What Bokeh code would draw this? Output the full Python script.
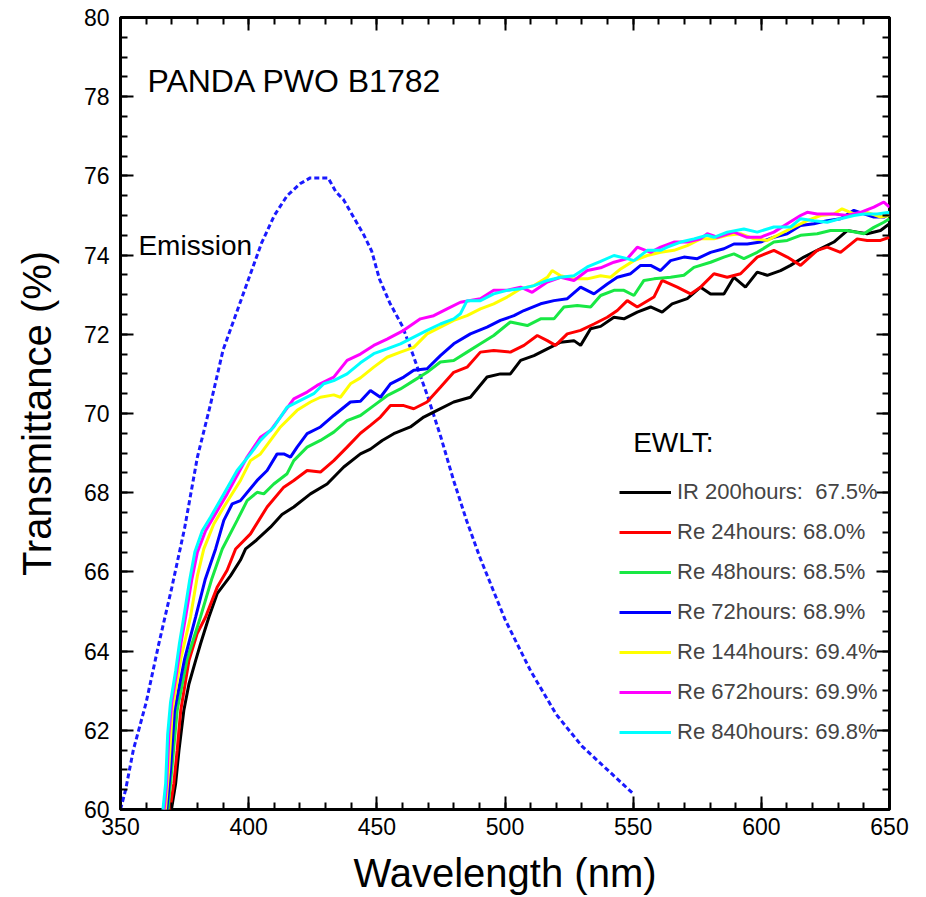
from bokeh.plotting import figure
from bokeh.models import (LinearAxis, Range1d, FixedTicker, Label, Legend, LegendItem,
                          CustomLabelingPolicy)
from bokeh.embed import file_html
from bokeh.resources import INLINE

# ---------------- data ----------------
x_major = [350, 400, 450, 500, 550, 600, 650]
x_minor = list(range(350, 651, 10))
y_major = [60, 62, 64, 66, 68, 70, 72, 74, 76, 78, 80]
y_minor = [60 + 0.5 * i for i in range(41)]

emission = [(350, 60.0), (352, 60.5), (355, 61.5), (360, 62.7), (365, 64.2), (370, 65.6),
            (375, 67.1), (380, 68.9), (385, 70.2), (390, 71.6), (395, 72.5), (400, 73.4),
            (405, 74.3), (410, 75.0), (415, 75.5), (420, 75.8), (424, 75.95), (431, 75.95),
            (434, 75.6), (437, 75.4), (441, 74.95), (445, 74.5), (448, 74.1), (451, 73.4),
            (455, 72.8), (460, 72.2), (464, 71.5), (470, 70.4), (475, 69.4), (480, 68.3),
            (485, 67.3), (490, 66.4), (495, 65.6), (500, 64.8), (510, 63.5), (520, 62.4),
            (530, 61.6), (540, 61.0), (550, 60.4)]

ir200 = [(369.8, 59.97), (371.5, 60.65), (372.8, 61.49), (374.7, 62.5), (376.7, 63.17),
         (379.3, 63.76), (381.2, 64.18), (384.5, 64.86), (387.7, 65.45), (392.9, 65.9),
         (396.8, 66.3), (398.8, 66.58), (403.0, 66.8), (408.5, 67.13), (413.0, 67.45),
         (417.6, 67.64), (424.1, 67.97), (430.6, 68.22), (437.1, 68.65), (443.6, 68.98),
         (447.5, 69.1), (452.1, 69.32), (456.6, 69.49), (463.1, 69.66), (468.3, 69.91),
         (473.5, 70.08), (480.0, 70.29), (486.5, 70.41), (493.0, 70.92), (498.2, 71.0),
         (502.1, 71.0), (506.1, 71.34), (511.3, 71.46), (516.5, 71.63), (521.7, 71.8),
         (526.9, 71.84), (529.5, 71.72), (533.4, 72.14), (537.3, 72.2), (542.5, 72.43),
         (546.4, 72.39), (551.6, 72.56), (556.8, 72.69), (561.3, 72.56), (565.2, 72.77),
         (571.1, 72.9), (576.3, 73.19), (580.2, 73.02), (585.4, 73.02), (589.3, 73.44),
         (593.8, 73.19), (598.4, 73.57), (602.3, 73.49), (607.5, 73.61), (611.4, 73.74),
         (616.6, 73.95), (621.8, 74.12), (628.3, 74.33), (633.5, 74.62), (637.4, 74.58),
         (641.3, 74.54), (646.5, 74.62), (650.0, 74.79)]

re24 = [(369.2, 59.97), (370.8, 60.65), (372.1, 61.49), (373.5, 62.5), (376.7, 63.76),
        (379.9, 64.44), (383.2, 64.86), (387.7, 65.61), (391.6, 66.04), (394.9, 66.58),
        (400.7, 66.96), (407.2, 67.64), (413.7, 68.14), (417.6, 68.31), (422.8, 68.56),
        (428.0, 68.52), (433.2, 68.81), (438.4, 69.15), (443.6, 69.5), (447.5, 69.7),
        (451.4, 69.91), (455.3, 70.2), (460.5, 70.2), (464.4, 70.12), (469.6, 70.29),
        (474.8, 70.66), (480.0, 71.04), (485.2, 71.17), (490.4, 71.55), (495.6, 71.59),
        (502.1, 71.55), (507.4, 71.72), (512.6, 71.97), (516.5, 71.84), (519.7, 71.72),
        (524.3, 72.01), (529.5, 72.1), (534.7, 72.26), (539.9, 72.43), (543.8, 72.6),
        (547.7, 72.85), (551.6, 72.69), (558.1, 72.94), (561.3, 73.36), (567.2, 73.19),
        (572.4, 73.02), (576.3, 73.19), (581.5, 73.53), (586.7, 73.44), (591.9, 73.53),
        (598.4, 73.95), (604.9, 74.12), (610.1, 73.95), (615.3, 73.74), (621.8, 74.12),
        (625.7, 74.2), (630.9, 74.07), (637.4, 74.41), (641.3, 74.37), (646.5, 74.37),
        (650.0, 74.45)]

re48 = [(368.5, 59.97), (370.0, 61.0), (372.1, 62.5), (376.0, 63.8), (381.2, 64.86),
        (385.5, 65.8), (389.7, 66.58), (395.5, 67.3), (399.4, 67.8), (403.3, 68.01),
        (405.9, 67.97), (409.8, 68.22), (415.0, 68.48), (417.6, 68.81), (422.8, 69.15),
        (428.0, 69.32), (433.2, 69.53), (438.4, 69.82), (443.6, 69.95), (448.8, 70.2),
        (454.0, 70.45), (459.2, 70.62), (464.4, 70.83), (469.6, 71.04), (474.8, 71.3),
        (480.0, 71.34), (485.2, 71.55), (490.4, 71.76), (495.6, 71.97), (502.1, 72.31),
        (508.7, 72.22), (513.9, 72.39), (519.1, 72.39), (523.0, 72.69), (528.2, 72.73),
        (533.4, 72.69), (537.3, 72.98), (542.5, 73.11), (546.4, 73.11), (550.3, 72.98),
        (554.2, 73.36), (558.1, 73.4), (564.6, 73.44), (569.8, 73.49), (573.7, 73.69),
        (580.2, 73.82), (585.4, 73.95), (589.3, 74.03), (593.2, 73.91), (598.4, 74.07),
        (604.9, 74.33), (610.1, 74.37), (615.3, 74.5), (621.8, 74.54), (627.0, 74.62),
        (633.5, 74.62), (640.0, 74.54), (643.9, 74.7), (647.8, 74.83), (650.0, 74.92)]

re72 = [(368.0, 59.97), (369.5, 61.0), (371.1, 62.5), (375.0, 63.8), (379.3, 64.86),
        (383.0, 65.8), (387.1, 66.58), (390.3, 67.3), (393.6, 67.72), (396.8, 67.8),
        (403.3, 68.31), (407.2, 68.56), (411.1, 68.98), (413.7, 68.98), (416.3, 68.9),
        (418.9, 69.15), (422.8, 69.49), (428.0, 69.66), (433.2, 69.95), (439.7, 70.29),
        (443.6, 70.31), (447.5, 70.58), (451.4, 70.41), (455.3, 70.75), (460.5, 70.92),
        (464.4, 71.09), (469.6, 71.13), (474.8, 71.46), (480.0, 71.76), (486.5, 72.01),
        (493.0, 72.18), (498.2, 72.35), (503.5, 72.47), (507.4, 72.6), (513.9, 72.77),
        (519.1, 72.85), (524.3, 72.9), (529.5, 73.19), (534.7, 73.02), (539.9, 73.27),
        (543.8, 73.44), (549.0, 73.53), (552.9, 73.74), (556.8, 73.74), (560.7, 73.61),
        (564.6, 73.86), (569.8, 73.95), (575.0, 73.91), (580.2, 74.07), (585.4, 74.16),
        (589.3, 74.28), (594.5, 74.28), (599.7, 74.33), (604.9, 74.45), (610.1, 74.54),
        (615.3, 74.75), (620.5, 74.79), (625.7, 74.87), (630.9, 74.92), (636.1, 75.13),
        (640.0, 75.04), (643.9, 74.96), (647.8, 74.96), (650.0, 75.04)]

re144 = [(367.5, 59.97), (368.8, 61.0), (370.2, 62.5), (373.5, 63.8), (377.3, 64.86),
         (380.0, 65.9), (382.5, 66.58), (386.4, 67.21), (390.3, 67.64), (396.8, 68.31),
         (400.7, 68.81), (404.6, 68.98), (408.5, 69.32), (412.4, 69.66), (418.9, 70.08),
         (424.1, 70.29), (428.0, 70.41), (433.2, 70.47), (435.8, 70.41), (439.7, 70.75),
         (443.6, 70.9), (448.8, 71.17), (454.0, 71.42), (459.2, 71.55), (464.4, 71.67),
         (469.6, 72.01), (474.8, 72.18), (480.0, 72.35), (485.2, 72.47), (490.4, 72.64),
         (495.6, 72.77), (500.8, 72.94), (506.1, 73.15), (511.3, 73.23), (516.5, 73.44),
         (518.4, 73.61), (521.7, 73.48), (526.9, 73.4), (532.1, 73.4), (537.3, 73.48),
         (541.2, 73.44), (545.1, 73.65), (550.3, 73.86), (555.5, 73.99), (560.7, 74.07),
         (565.9, 74.12), (571.1, 74.24), (576.3, 74.41), (581.5, 74.41), (586.7, 74.5),
         (591.9, 74.54), (597.1, 74.41), (602.3, 74.37), (607.5, 74.54), (612.7, 74.71),
         (617.9, 74.87), (623.1, 75.0), (628.3, 75.04), (631.5, 75.17), (636.1, 75.04),
         (641.3, 75.08), (646.5, 74.96), (650.0, 75.0)]

re672 = [(367.0, 59.97), (368.0, 60.65), (368.9, 61.9), (370.0, 62.7), (372.0, 63.5),
         (373.6, 64.2), (375.4, 64.86), (377.8, 65.8), (380.0, 66.5), (383.2, 67.04),
         (391.6, 67.97), (399.4, 68.9), (404.6, 69.4), (408.5, 69.57), (412.4, 69.91),
         (417.6, 70.37), (422.8, 70.54), (426.7, 70.71), (433.2, 70.92), (438.4, 71.34),
         (443.6, 71.5), (448.8, 71.72), (454.0, 71.88), (460.5, 72.1), (467.0, 72.39),
         (472.2, 72.47), (477.4, 72.64), (482.6, 72.81), (490.4, 72.9), (495.6, 73.11),
         (500.8, 73.11), (506.1, 73.19), (510.6, 73.06), (516.5, 73.32), (521.7, 73.44),
         (526.9, 73.36), (532.1, 73.61), (537.3, 73.68), (542.5, 73.82), (547.7, 73.91),
         (551.6, 74.2), (556.8, 74.07), (560.7, 74.2), (565.9, 74.33), (571.1, 74.33),
         (576.3, 74.41), (578.9, 74.54), (582.8, 74.45), (589.3, 74.58), (594.5, 74.45),
         (599.7, 74.45), (604.9, 74.58), (610.1, 74.79), (615.3, 75.0), (617.9, 75.08),
         (621.8, 75.04), (628.3, 75.04), (633.5, 75.0), (638.7, 75.08), (643.9, 75.21),
         (647.8, 75.34), (650.0, 75.21)]

re840 = [(366.5, 59.97), (367.6, 60.65), (368.4, 61.9), (369.5, 62.7), (371.5, 63.5),
         (373.0, 64.2), (374.7, 64.86), (377.0, 65.8), (379.0, 66.5), (381.9, 67.04),
         (385.1, 67.38), (390.3, 67.97), (395.5, 68.56), (400.7, 68.98), (404.6, 69.32),
         (409.8, 69.66), (415.0, 70.16), (420.2, 70.33), (425.4, 70.5), (429.3, 70.75),
         (433.2, 70.83), (438.4, 71.0), (443.6, 71.28), (448.8, 71.51), (454.0, 71.63),
         (459.2, 71.76), (464.4, 71.93), (469.6, 72.1), (474.8, 72.26), (480.0, 72.39),
         (482.6, 72.52), (485.2, 72.85), (490.4, 72.85), (495.6, 73.02), (500.8, 73.11),
         (506.1, 73.15), (511.3, 73.23), (516.5, 73.36), (521.7, 73.44), (526.9, 73.48),
         (532.1, 73.7), (537.3, 73.84), (542.5, 73.99), (547.7, 73.91), (550.3, 73.86),
         (555.5, 74.12), (560.7, 74.12), (563.3, 74.2), (568.5, 74.33), (573.7, 74.41),
         (578.9, 74.5), (581.5, 74.45), (586.7, 74.58), (593.2, 74.66), (598.4, 74.58),
         (604.9, 74.71), (611.4, 74.71), (615.3, 74.92), (620.5, 74.87), (625.7, 74.83),
         (630.9, 74.92), (636.1, 75.0), (640.0, 75.04), (645.2, 75.04), (650.0, 75.08)]

series_labels = ["IR 200hours:  67.5%", "Re 24hours: 68.0%", "Re 48hours: 68.5%",
                 "Re 72hours: 68.9%", "Re 144hours: 69.4%", "Re 672hours: 69.9%",
                 "Re 840hours: 69.8%"]
series_data = [ir200, re24, re48, re72, re144, re672, re840]
series_colors = ["#000000", "#ff0000", "#18e844", "#0000ff", "#ffff00", "#ff00ff", "#00ffff"]

FONT = "Liberation Sans"

# ---------------- figure ----------------
p = figure(width=926, height=897, x_range=Range1d(350, 650), y_range=Range1d(60, 80),
           output_backend="svg", toolbar_location=None,
           min_border_left=120, min_border_right=37, min_border_top=17, min_border_bottom=88)
p.grid.visible = False
p.background_fill_color = "white"
p.border_fill_color = "white"
p.outline_line_color = "black"
p.outline_line_width = 3

hide_labels = CustomLabelingPolicy(code="""
    const all = [...indices]
    for (const i of all) { indices.unset(i) }
    return indices
""")

def style_axis(ax, ticks, minor, show_labels):
    ax.ticker = FixedTicker(ticks=ticks, minor_ticks=minor)
    ax.axis_line_color = None
    ax.major_tick_in = 13
    ax.major_tick_out = 0
    ax.minor_tick_in = 7
    ax.minor_tick_out = 0
    ax.major_tick_line_width = 2
    ax.minor_tick_line_width = 2
    ax.major_tick_line_color = "black"
    ax.minor_tick_line_color = "black"
    if show_labels:
        ax.major_label_text_font = FONT
        ax.major_label_text_font_size = "23px"
        ax.major_label_text_color = "black"
        ax.axis_label_text_font = FONT
        ax.axis_label_text_font_size = "40px"
        ax.axis_label_text_font_style = "normal"
        ax.axis_label_text_color = "black"
    else:
        ax.major_label_policy = hide_labels
        ax.major_label_text_font_size = "10px"
        ax.major_label_standoff = 0

xa = p.xaxis[0]
ya = p.yaxis[0]
style_axis(xa, x_major, x_minor, True)
style_axis(ya, y_major, y_minor, True)
xa.axis_label = "Wavelength (nm)"
ya.axis_label = "Transmittance (%)"
xa.major_label_standoff = 8
ya.major_label_standoff = 11
xa.axis_label_standoff = 13
ya.axis_label_standoff = 22

top_ax = LinearAxis()
right_ax = LinearAxis()
style_axis(top_ax, x_major, x_minor, False)
style_axis(right_ax, y_major, y_minor, False)
p.add_layout(top_ax, "above")
p.add_layout(right_ax, "right")

# emission curve
p.line([d[0] for d in emission], [d[1] for d in emission], line_color="#1a1aff",
       line_width=3, line_dash="5 3")

items = []
for lab, data, col in zip(series_labels, series_data, series_colors):
    r = p.line([d[0] for d in data], [d[1] for d in data], line_color=col, line_width=3)
    items.append(LegendItem(label=lab, renderers=[r]))

legend = Legend(items=items, location=(499, 57), padding=0, margin=0, spacing=0,
                glyph_width=52, glyph_height=40, label_height=40, label_standoff=6,
                label_text_font=FONT, label_text_font_size="22px",
                label_text_baseline="alphabetic",
                border_line_color=None, background_fill_alpha=0)
p.add_layout(legend)

p.add_layout(Label(x=360.5, y=77.95, text="PANDA PWO B1782", text_font=FONT,
                   text_font_size="32px", text_color="black"))
p.add_layout(Label(x=357.0, y=73.85, text="Emission", text_font=FONT,
                   text_font_size="28px", text_color="black"))
p.add_layout(Label(x=550.0, y=68.88, text="EWLT:", text_font=FONT,
                   text_font_size="28px", text_color="black"))

open("out.html", "w").write(file_html(p, INLINE))
